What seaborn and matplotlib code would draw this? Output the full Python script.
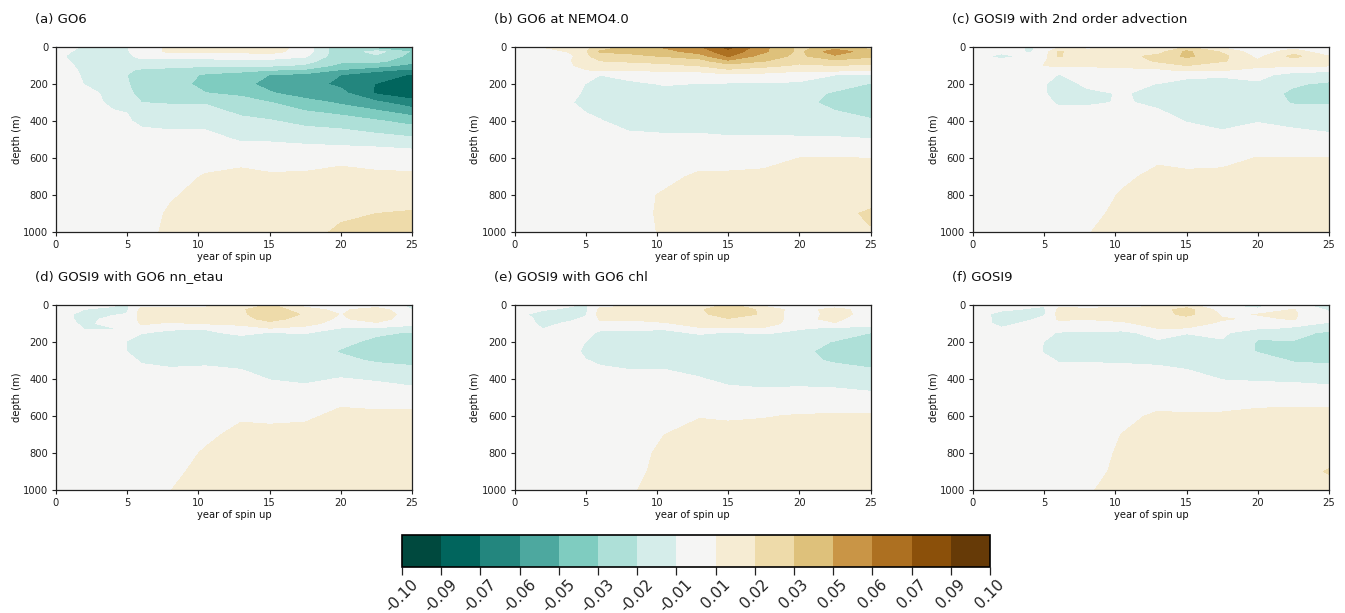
import numpy as np
import matplotlib
matplotlib.use("Agg")
import matplotlib.pyplot as plt
import seaborn as sns

years = [0, 2, 4, 5, 6, 8, 10.5, 13, 15, 17.5, 20, 22.5, 25]
depths = [0, 25, 50, 75, 100, 125, 150, 200, 250, 300, 400, 500, 600, 700, 800, 900, 1000]

# anomalies, in thousandths; one row per depth, one column per year
go6 = [
    [0, -8, -8, -7, 0, 9, 8, 9, 15, 0, -30, -45, -45],
    [-3, -10, -13, -8, 0, 9, 8, 9, 12, 0, -30, -15, -35],
    [-3, -14, -14, -12, 0, -1, -2, -1, 0, -5, -30, -22, -38],
    [-2, -12, -13, -12, -12, -12, -10, -10, -10, -15, -30, -30, -40],
    [-1, -10, -12, -12, -15, -17, -18, -18, -18, -22, -38, -40, -52],
    [0, -9, -12, -18, -22, -23, -27, -30, -33, -36, -48, -58, -62],
    [0, -8, -12, -20, -25, -26, -35, -38, -47, -50, -60, -65, -75],
    [0, -7, -11, -19, -26, -28, -37, -42, -52, -55, -63, -74, -85],
    [0, -3, -10, -17, -24, -26, -33, -36, -45, -54, -56, -75, -82],
    [0, -2, -9, -9, -20, -21, -21, -28, -33, -41, -49, -57, -68],
    [0, 0, -3, -5, -10, -10, -11, -17, -19, -24, -26, -32, -38],
    [0, 0, 0, 0, 0, -3, -2, -8, -8, -10, -12, -14, -17],
    [0, 0, 0, 0, 0, 0, 0, 4, 2, 3, 4, 4, 3],
    [0, 0, 0, 0, 0, 0, 8, 9, 8, 8, 10, 8, 8],
    [0, 0, 0, 0, 0, 5.5, 10, 10, 10, 10, 11, 11, 10],
    [0, 0, 0, 0, 2, 8, 10, 12, 13, 15, 18, 20, 22],
    [0, 0, 0, 0, 3, 9, 11, 13, 14, 16, 22, 24, 25],
]
go6_nemo4 = [
    [0, 7, 8, 18, 24, 36, 48, 58, 78, 50, 30, 38, 28],
    [0, 1, 8, 18, 35, 36, 42, 52, 68, 49, 30, 55, 38],
    [0, 0, 5, 18, 24, 30, 34, 40, 61, 40, 30, 44, 35],
    [0, 0, 6.5, 18, 20, 22, 24, 28, 44, 34, 24, 30, 28],
    [0, 0, 6, 10, 12, 14, 17, 21, 28, 24, 18, 20, 17],
    [0, 0, 1, 6, 8, 8, 9, 10, 18, 13, 9, 10, 8],
    [0, 0, 0, -1, -6.5, -3, -1, 1, 4, 3, 0, -6.5, -7],
    [0, 0, -2, -7, -12, -9, -6, -7, -8, -8, -9, -13, -21],
    [0, 0, -3, -9, -12, -11, -10, -10, -11, -11, -14, -22, -24],
    [0, 0, -6, -11, -12, -12, -12, -12, -12, -13, -17, -23, -26],
    [0, 0, 0, -3, -6, -11, -12, -12, -13, -13, -14, -16, -19],
    [0, 0, 0, 0, 0, -3, -4, -4, -5, -5, -5, -5, -6],
    [0, 0, 0, 0, 0, 0, 0, 1, 1, 2, 6.7, 7, 6.5],
    [0, 0, 0, 0, 0, 0, 3, 9, 9, 10, 11, 11, 11],
    [0, 0, 0, 0, 0, 2, 8, 11, 12, 12, 13, 13, 14],
    [0, 0, 0, 0, 0, 1, 9, 12, 13, 14, 15, 16, 22],
    [0, 0, 0, 0, 0, 0, 8.5, 12, 13, 14, 15, 16, 19],
]
gosi9_2nd = [
    [0, 0, -8, -4, 3, 4, 4, 5, 20, 4, -5, 1, -8],
    [0, -2, -8, 0, 22, 10, 12, 14, 36, 18, -2, 14, -4],
    [0, -12, -2, 2, 21, 14, 15, 24, 36, 24, 3, 24, 7],
    [0, -2, 0, 6, 10, 9, 11, 22, 26, 22, 8, 13, 13],
    [0, 0, 0, 7, 8, 8, 9, 13, 20, 10, 8, 9, 8],
    [0, 0, 0, 0, 2, 3, 4, 4, 9, 7, 5, -3, -5],
    [0, 0, 0, -2, -7, -3, 0, -1, -4, -5, -4, -10, -10],
    [0, 0, 0, -6, -11, -5, -4, -7, -10, -11, -8, -18, -23],
    [0, 0, 0, -6, -10, -8.5, -6, -9, -11, -12, -13, -23, -24],
    [0, 0, 0, -4, -8, -8, -6, -8, -11, -13, -14, -21, -21],
    [0, 0, 0, 0, 0, 0, 0, -4, -7, -10, -7, -9, -11],
    [0, 0, 0, 0, 0, 0, 0, -1, -2, -3, -3, -3, -4],
    [0, 0, 0, 0, 0, 0, 0, 4.5, 3, 4, 7, 7, 7],
    [0, 0, 0, 0, 0, 0, 4, 10, 9, 9, 11, 11, 11],
    [0, 0, 0, 0, 0, 0, 8, 10, 11, 11, 12, 12, 12],
    [0, 0, 0, 0, 0, 3, 10, 11, 12, 12, 13, 13, 13],
    [0, 0, 0, 0, 0, 6.2, 10, 11, 12, 12, 12, 13, 14],
]
gosi9_etau = [
    [0, -2, -6, -8, 3, 4, 4, 5, 22, 3, -8, -3, -8],
    [0, -7, -8, -8, 10, 10, 10, 18, 30, 10, 4, 14, -7],
    [0, -11, -8, -6, 12, 12, 11, 17, 30, 18, 6, 15, 0],
    [0, -11, -3, -3, 11, 9, 8, 12, 27, 12, 5, 12, 0],
    [0, -9, -3, -2, 8, 5.5, 7.5, 10, 14, 10, 2, 5, -5],
    [0, -7, -7, -1, 2, -5, -6, 1, 6.7, 4, -7, -8, -9],
    [0, -6, -6, -5, -6, -9, -8, -5, -7, -6, -12, -18, -21],
    [0, 0, -1, -7, -12, -11, -9, -11, -12, -11, -17, -23, -24],
    [0, 0, 0, -7, -11, -12, -12, -13, -13, -14, -21, -24, -26],
    [0, 0, 0, -3, -8, -10, -9, -10, -12, -13, -17, -21.5, -23],
    [0, 0, 0, 0, 0, -1, -1, -3, -7, -9, -6, -8, -12],
    [0, 0, 0, 0, 0, 0, 0, 0, 0, 0, 4, 2, 2],
    [0, 0, 0, 0, 0, 0, 0, 5, 4, 5, 9, 9, 9],
    [0, 0, 0, 0, 0, 0, 4, 10, 10, 10, 11, 11, 11],
    [0, 0, 0, 0, 0, 1, 8, 10, 10, 10, 11, 11, 11],
    [0, 0, 0, 0, 0, 4, 10, 11, 11, 11, 12, 12, 12],
    [0, 0, 0, 0, 0, 6.5, 10, 11, 11, 12, 12, 12, 12],
]
gosi9_chl = [
    [0, -2, -6, -8, 3, 5, 4, 6, 24, 2, -9, -5, -8],
    [0, -6, -8, -9, 10, 10, 11, 18, 30, 17, -1, 13, -2],
    [-3, -11, -10, -8, 11, 10, 12, 16, 28, 18, -3, 13, 0],
    [0, -10, -8, -5, 8, 7.5, 10, 10, 19, 10, 4, 9, 0],
    [0, -9, -5, -2, 5, 4, 5.5, 10, 10, 10, 3, 6, -5],
    [0, -7, -2, -1, -4, -5, -6, 6, 6.5, 6, -6, -8, -8],
    [0, -1, 0, -2, -9, -8, -8, -6, -7, -6, -8, -13, -20],
    [0, 0, 0, -7, -11, -10, -10, -10, -12, -11, -14, -21, -24],
    [0, 0, -2, -10, -12, -12, -12, -13, -15, -15, -18, -23, -25],
    [0, 0, 0, -6, -9, -11, -10, -12, -13, -13, -17, -21.5, -24],
    [0, 0, 0, 0, 0, -2, -3, -6, -9, -11, -10, -11, -14],
    [0, 0, 0, 0, 0, 0, 0, -1, -2, -2, -2, -2, -3],
    [0, 0, 0, 0, 0, 0, 0, 6, 5, 6, 7.5, 8, 8],
    [0, 0, 0, 0, 0, 0, 6.5, 11, 11, 11, 11, 11, 11],
    [0, 0, 0, 0, 0, 0, 10, 11, 11, 11, 11, 11, 11],
    [0, 0, 0, 0, 0, 3, 10, 11, 11, 11, 12, 12, 12],
    [0, 0, 0, 0, 0, 5.5, 10, 11, 11, 12, 12, 12, 12],
]
gosi9 = [
    [0, -2, -4, -6, 3, 4, 3, 4, 10, -7, -8, -3, -12],
    [0, -5, -8, -8, 9, 8, 9, 14, 26, 0, -6, 7.5, -9],
    [-1, -11, -9, -8, 10, 8, 9, 14, 24, 5, 7, 8, -3],
    [0, -10, -8, -4, 8, 7, 9, 10, 14, 7.5, 5, 7.5, -3],
    [0, -10, -4, -2, 4, 4, 5, 10, 10, 5, 2, -3, -8],
    [0, -6, -1, -1, 1, -1, -3, 7, 6.5, 3, -5, -8, -13],
    [0, 0, 0, -2, -8, -9, -9, -3, -6, -4, -17, -15, -23],
    [0, 0, 0, -7, -12, -10, -12, -8, -12, -8, -21, -21, -26],
    [0, 0, 0, -8, -12, -11, -11, -12, -13, -12, -21, -24, -27],
    [0, 0, 0, -3, -7.5, -7.5, -8, -9, -11, -12, -14, -21, -22],
    [0, 0, 0, 0, 0, 0, 0, 0, -2, -7, -8, -9, -11],
    [0, 0, 0, 0, 0, 0, 0, 0, 0, 0, 2, 3, 3],
    [0, 0, 0, 0, 0, 0, 3, 9, 8, 8.5, 10, 10, 10],
    [0, 0, 0, 0, 0, 0, 7, 11, 11, 11, 11, 11, 11],
    [0, 0, 0, 0, 0, 0, 9, 11, 11, 12, 12, 12, 14],
    [0, 0, 0, 0, 0, 2, 10, 12, 12, 13, 13, 14, 21],
    [0, 0, 0, 0, 0, 6, 9, 12, 12, 12, 13, 13, 14],
]

panels = [go6, go6_nemo4, gosi9_2nd, gosi9_etau, gosi9_chl, gosi9]
titles = ["(a) GO6", "(b) GO6 at NEMO4.0", "(c) GOSI9 with 2nd order advection",
          "(d) GOSI9 with GO6 nn_etau", "(e) GOSI9 with GO6 chl", "(f) GOSI9"]
xticks = [0, 5, 10, 15, 20, 25]
yticks = [0, 200, 400, 600, 800, 1000]
cbar_levels = np.linspace(-0.1, 0.1, 16)

W, H = 1345, 613
sns.set_style("ticks", {"axes.edgecolor": "#222222", "xtick.color": "#222222",
                        "ytick.color": "#222222", "text.color": "#111111",
                        "axes.labelcolor": "#111111", "xtick.direction": "out",
                        "ytick.direction": "out", "font.family": ["DejaVu Sans"]})
plt.rcParams.update({"axes.linewidth": 0.9, "xtick.major.size": 3, "ytick.major.size": 3,
                     "xtick.major.width": 0.8, "ytick.major.width": 0.8})
cmap = sns.color_palette("BrBG_r", as_cmap=True)

fig = plt.figure(figsize=(W / 100, H / 100), dpi=100)
lefts = [56, 514.5, 973]
tops = [47, 305]
aw, ah = 356, 185
cf = None
for i, (vals, title) in enumerate(zip(panels, titles)):
    l, t = lefts[i % 3], tops[i // 3]
    ax = fig.add_axes([l / W, 1 - (t + ah) / H, aw / W, ah / H])
    z = np.array(vals, dtype=float) / 1000.0
    cf = ax.contourf(years, depths, z, levels=cbar_levels, cmap=cmap, vmin=-0.1, vmax=0.1)
    ax.set_xlim(0, 25)
    ax.set_ylim(1000, 0)
    ax.set_xticks(xticks)
    ax.set_yticks(yticks)
    ax.tick_params(labelsize=7.2, pad=2.5)
    ax.set_xlabel("year of spin up", fontsize=7.2, labelpad=2)
    ax.set_ylabel("depth (m)", fontsize=7.2, labelpad=1)
    ax.text(-21 / aw, 1 + 28 / ah, title, transform=ax.transAxes, fontsize=9.5,
            ha="left", va="center")
    sns.despine(ax=ax, top=False, right=False)

cax = fig.add_axes([402 / W, 1 - 567 / H, 588 / W, 32 / H])
cb = fig.colorbar(cf, cax=cax, orientation="horizontal", ticks=cbar_levels, format="%.2f")
cb.ax.tick_params(labelsize=11, rotation=45, length=6, width=0.9, pad=1)
cb.outline.set_linewidth(1.2)
cb.outline.set_edgecolor("black")
fig.savefig("out.png", dpi=100)
